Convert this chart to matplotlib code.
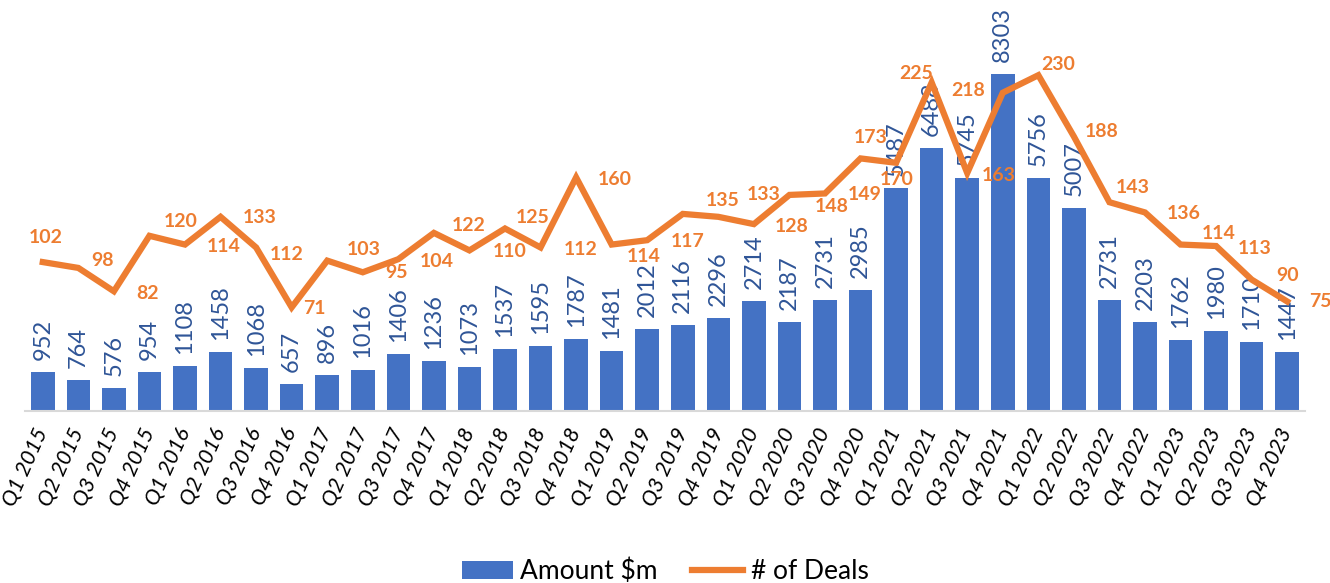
import matplotlib.pyplot as plt
from matplotlib.patches import Patch
from matplotlib.lines import Line2D

# data
quarters = ['Q1 2015', 'Q2 2015', 'Q3 2015', 'Q4 2015', 'Q1 2016', 'Q2 2016', 'Q3 2016', 'Q4 2016',
            'Q1 2017', 'Q2 2017', 'Q3 2017', 'Q4 2017', 'Q1 2018', 'Q2 2018', 'Q3 2018', 'Q4 2018',
            'Q1 2019', 'Q2 2019', 'Q3 2019', 'Q4 2019', 'Q1 2020', 'Q2 2020', 'Q3 2020', 'Q4 2020',
            'Q1 2021', 'Q2 2021', 'Q3 2021', 'Q4 2021', 'Q1 2022', 'Q2 2022', 'Q3 2022', 'Q4 2022',
            'Q1 2023', 'Q2 2023', 'Q3 2023', 'Q4 2023']
amount = [952, 764, 576, 954, 1108, 1458, 1068, 657, 896, 1016, 1406, 1236,
          1073, 1537, 1595, 1787, 1481, 2012, 2116, 2296, 2714, 2187, 2731, 2985,
          5487, 6488, 5745, 8303, 5756, 5007, 2731, 2203, 1762, 1980, 1710, 1447]
deals = [102, 98, 82, 120, 114, 133, 112, 71, 103, 95, 104, 122,
         110, 125, 112, 160, 114, 117, 135, 133, 128, 148, 149, 173,
         170, 225, 163, 218, 230, 188, 143, 136, 114, 113, 90, 75]

# where each deal label sits relative to its point (pixels, right / up)
deal_offsets = [(3, 25), (24, 7), (34, -2), (31, 14), (39, -2), (39, -1), (31, -7), (23, -1),
                (36, 11), (34, 0), (38, -2), (35, 7), (40, -1), (28, 11), (40, -2), (39, -2),
                (32, -12), (40, -1), (40, 13), (45, 22), (38, -2), (42, -12), (40, -1), (10, 21),
                (1, -17), (-16, 9), (31, -2), (-35, 2), (20, 11), (28, 5), (23, 15), (39, -1),
                (38, 11), (39, -2), (36, 4), (33, 0)]

blue = '#4472C4'
orange = '#ED7D31'
plt.rcParams['font.family'] = ['Lato', 'DejaVu Sans']

fig = plt.figure(figsize=(13.3, 5.83), dpi=100)
ax = fig.add_axes([25 / 1330, 1 - 411 / 583, 1280 / 1330, 365 / 583])
x = list(range(len(quarters)))

bars = ax.bar(x, amount, width=0.66, color=blue, zorder=2)
ax.set_xlim(-0.5, len(quarters) - 0.5)
ax.set_ylim(0, 9000)
ax.set_yticks([])
for s in ['top', 'right', 'left']:
    ax.spines[s].set_visible(False)
ax.spines['bottom'].set_color('#D9D9D9')
ax.spines['bottom'].set_linewidth(1.5)
ax.tick_params(axis='x', length=0, pad=13)
ax.set_xticks(x)
ax.set_xticklabels(quarters, rotation=66, ha='right', va='center', rotation_mode='anchor',
                   fontsize=15.5, fontstyle='italic', color='black')

for xi, v in zip(x, amount):
    ax.annotate(str(v), (xi, v), xytext=(0, 12), textcoords='offset pixels',
                rotation=90, ha='center', va='bottom', fontsize=17, color='#2F5597', zorder=3)

ax2 = ax.twinx()
ax2.plot(x, deals, color=orange, linewidth=4.5, solid_joinstyle='miter', zorder=4)
ax2.set_ylim(0, 250)
ax2.set_yticks([])
ax2.axis('off')
for xi, v, (dx, dy) in zip(x, deals, deal_offsets):
    ax2.annotate(str(v), (xi, v), xytext=(dx, dy), textcoords='offset pixels',
                 ha='center', va='center', fontsize=14, fontweight='bold', color=orange)

handles = [Patch(facecolor=blue), Line2D([0], [0], color=orange, linewidth=4.5)]
fig.legend(handles, ['Amount $m', '# of Deals'], loc='center', bbox_to_anchor=(0.5, 0.02),
           ncol=2, frameon=False, fontsize=19, handlelength=1.95, handleheight=0.65,
           columnspacing=1.3, handletextpad=0.27)

fig.savefig('out.png', dpi=100)
